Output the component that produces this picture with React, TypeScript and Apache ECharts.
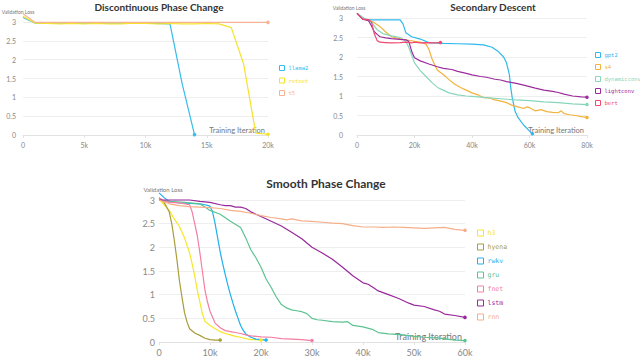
import { useEffect, useRef } from 'react';
import * as echarts from 'echarts';

// ---- Discontinuous Phase Change (x in thousands of iterations) ----
const llama2 = [[0,3.12],[1,2.97],[2,2.97],[4,2.97],[6,2.97],[8,2.97],[10,2.97],[12,2.95],[13,1.35],[14,0.01]];
const retnet = [[0,3.15],[1,2.97],[2,2.96],[3,2.95],[4,2.96],[5,2.95],[6,2.96],[7,2.95],[8,2.95],[9,2.97],[10,2.96],[11,2.95],[12,2.96],[13,2.95],[14,2.95],[15,2.96],[16,2.95],[17,2.85],[18,1.9],[19,0.05],[20,0.02]];
const t5 = [[0,3.22],[1,2.99],[5,2.99],[10,2.99],[15,2.99],[20,2.99]];

// ---- Secondary Descent ----
const gpt2 = [[0,3.12],[2,2.97],[5,2.95],[10,2.95],[15,2.95],[16,2.85],[17,2.62],[19,2.52],[22,2.46],[25,2.37],[30,2.35],[35,2.34],[40,2.33],[44,2.31],[47,2.25],[49,2.15],[51,2.0],[52,1.85],[53,1.55],[53.5,1.2],[54,0.95],[55,0.6],[56,0.45],[57,0.35],[58,0.25],[59,0.18],[60,0.1],[61,0.03]];
const s4 = [[0,3.12],[2,2.97],[4,2.94],[6,2.88],[8,2.78],[10,2.64],[12,2.52],[14,2.48],[16,2.45],[18,2.43],[20,2.4],[22,2.38],[24,2.33],[25,2.2],[26,1.97],[27,1.8],[28,1.66],[30,1.55],[32,1.42],[34,1.3],[36,1.22],[38,1.15],[40,1.08],[42,1.03],[44,0.96],[46,0.95],[48,0.9],[50,0.87],[52,0.83],[54,0.76],[56,0.72],[58,0.68],[59,0.72],[60,0.7],[62,0.62],[64,0.65],[66,0.6],[68,0.58],[70,0.57],[71,0.62],[72,0.55],[74,0.52],[76,0.5],[78,0.47],[80,0.45]];
const dynamicconv = [[0,3.12],[3,2.97],[5,2.9],[6,2.8],[7,2.7],[9,2.6],[12,2.54],[15,2.5],[17,2.4],[18,2.25],[19,2.05],[20,1.85],[22,1.65],[24,1.5],[26,1.35],[28,1.22],[30,1.15],[32,1.08],[35,1.03],[38,1.0],[40,0.99],[45,0.96],[50,0.93],[55,0.9],[60,0.88],[65,0.85],[70,0.83],[75,0.8],[80,0.78]];
const lightconv = [[0,3.12],[2,2.97],[4,2.93],[5,2.8],[6,2.65],[7,2.58],[8,2.52],[10,2.49],[12,2.47],[15,2.45],[17,2.44],[18,2.4],[19,2.15],[20,1.98],[22,1.9],[25,1.82],[28,1.75],[30,1.71],[33,1.68],[35,1.63],[38,1.58],[40,1.54],[43,1.5],[45,1.48],[48,1.43],[50,1.41],[52,1.37],[55,1.33],[58,1.28],[60,1.24],[62,1.2],[65,1.15],[68,1.12],[70,1.09],[72,1.05],[75,1.0],[78,0.98],[80,0.97]];
const bert = [[0,3.12],[2,2.97],[4,2.96],[5,2.9],[6,2.6],[7,2.42],[8,2.38],[10,2.37],[12,2.36],[15,2.37],[17,2.38],[19,2.36],[20,2.38],[22,2.36],[25,2.37],[27,2.36],[29,2.37]];

// ---- Smooth Phase Change ----
const h3 = [[0,3.02],[1,2.9],[2,2.78],[3,2.6],[4,2.44],[5,2.2],[6,1.88],[6.5,1.65],[7,1.4],[7.5,1.1],[8,0.85],[8.5,0.6],[9,0.44],[10,0.35],[11,0.28],[12,0.22],[13,0.18],[14,0.15],[15,0.12],[16,0.1],[17,0.07],[18,0.05],[19,0.05],[20,0.04]];
const hyena = [[0,3.05],[1,2.95],[2,2.75],[2.5,2.5],[3,2.15],[3.5,1.75],[4,1.3],[4.5,0.95],[5,0.62],[5.5,0.42],[6,0.28],[7,0.19],[8,0.14],[9,0.08],[10,0.05],[11,0.04],[12,0.04]];
const rwkv = [[0,3.15],[1,3.05],[2,2.97],[4,2.94],[6,2.93],[8,2.92],[9,2.9],[10,2.87],[10.5,2.75],[11,2.5],[11.5,2.2],[12,1.9],[12.5,1.65],[13,1.42],[13.5,1.2],[14,1.0],[14.5,0.82],[15,0.65],[15.5,0.5],[16,0.35],[16.5,0.25],[17,0.17],[18,0.1],[19,0.06],[20,0.05],[21,0.04]];
const gru = [[0,3.0],[2,2.97],[5,2.95],[8,2.92],[9,2.85],[10,2.78],[12,2.7],[14,2.55],[16,2.42],[17,2.2],[18,1.95],[19,1.78],[20,1.58],[21,1.33],[22,1.15],[23,0.95],[24,0.79],[25,0.72],[26,0.68],[27,0.66],[28,0.64],[29,0.6],[30,0.5],[31,0.47],[32,0.46],[34,0.43],[36,0.42],[37,0.43],[38,0.35],[40,0.32],[42,0.26],[43,0.2],[45,0.17],[48,0.15],[50,0.12],[52,0.1],[55,0.08],[58,0.04],[60,0.03]];
const fnet = [[0,3.05],[1,2.98],[2,2.95],[4,2.94],[6,2.9],[6.5,2.75],[7,2.5],[7.5,2.25],[8,1.9],[8.5,1.5],[9,1.1],[9.5,0.85],[10,0.65],[11,0.4],[12,0.3],[13,0.24],[14,0.22],[15,0.2],[16,0.18],[17,0.15],[18,0.13],[20,0.11],[22,0.1],[24,0.07],[26,0.06],[28,0.05],[30,0.03]];
const lstm = [[0,3.0],[3,3.0],[6,3.0],[8,2.97],[10,2.95],[12,2.9],[13,2.88],[14,2.88],[15,2.85],[16,2.85],[17,2.82],[18,2.75],[20,2.65],[22,2.55],[24,2.45],[26,2.32],[28,2.18],[30,2.0],[32,1.88],[34,1.75],[36,1.58],[38,1.4],[40,1.25],[41,1.22],[42,1.15],[43,1.08],[45,1.0],[47,0.92],[49,0.82],[50,0.78],[52,0.75],[54,0.68],[55,0.65],[56,0.59],[58,0.56],[60,0.52]];
const rnn = [[0,3.0],[2,2.92],[4,2.88],[6,2.86],[8,2.85],[10,2.84],[12,2.82],[14,2.78],[16,2.76],[18,2.72],[20,2.67],[22,2.63],[24,2.6],[25,2.58],[26,2.6],[28,2.56],[30,2.55],[32,2.53],[34,2.51],[36,2.5],[38,2.46],[40,2.43],[42,2.43],[44,2.42],[46,2.43],[48,2.42],[50,2.41],[52,2.4],[54,2.41],[56,2.42],[58,2.38],[60,2.36]];

const titles = ['Discontinuous Phase Change', 'Secondary Descent', 'Smooth Phase Change'];
const xMaxes = [20, 80, 60];
const xIntervals = [5, 20, 10];

const FONT = 'Lato';
const MONO = 'DejaVu Sans Mono';

type S = { name: string; data: number[][]; color: string; g: number };
const seriesDefs: S[] = [
  { name: 'llama2', data: llama2, color: '#35bdec', g: 0 },
  { name: 'retnet', data: retnet, color: '#f6e22b', g: 0 },
  { name: 't5', data: t5, color: '#f5b394', g: 0 },
  { name: 'gpt2', data: gpt2, color: '#2fb9ed', g: 1 },
  { name: 's4', data: s4, color: '#f2b23c', g: 1 },
  { name: 'dynamicconv', data: dynamicconv, color: '#88d6b9', g: 1 },
  { name: 'lightconv', data: lightconv, color: '#9c2c9e', g: 1 },
  { name: 'bert', data: bert, color: '#f04a72', g: 1 },
  { name: 'h3', data: h3, color: '#f6e629', g: 2 },
  { name: 'hyena', data: hyena, color: '#a89d3a', g: 2 },
  { name: 'rwkv', data: rwkv, color: '#1fb0ee', g: 2 },
  { name: 'gru', data: gru, color: '#5cc392', g: 2 },
  { name: 'fnet', data: fnet, color: '#f57ea2', g: 2 },
  { name: 'lstm', data: lstm, color: '#98289b', g: 2 },
  { name: 'rnn', data: rnn, color: '#f6ae88', g: 2 },
];

const grids = [
  { left: 23, top: 22, width: 245, height: 113 },
  { left: 357, top: 18, width: 230, height: 117 },
  { left: 159, top: 200, width: 306, height: 142 },
];
const labelSizes = [7, 7, 9];
const yMargins = [7, 14, 4];
const legendPos = [
  { left: 279, top: 64, gap: 4.5, font: 5.5, lh: 8, icon: 5 },
  { left: 595, top: 51, gap: 4, font: 5.5, lh: 8, icon: 5 },
  { left: 477, top: 229, gap: 6, font: 6.5, lh: 8, icon: 6 },
];
const titlePos = [
  { left: 154, top: -3, size: 10 },
  { left: 488, top: -3, size: 10 },
  { left: 321, top: 172, size: 12 },
];

export default function App() {
  const ref = useRef<HTMLDivElement>(null);
  useEffect(() => {
    if (!ref.current) return;
    const chart = echarts.init(ref.current, undefined, { renderer: 'svg' });
    const option: any = {
      animation: false,
      backgroundColor: '#fff',
      textStyle: { fontFamily: FONT },
      title: titles.map((t, i) => ({
        text: t,
        left: titlePos[i].left,
        top: titlePos[i].top,
        textAlign: 'center',
        textStyle: { fontFamily: FONT, fontWeight: 'bold', fontSize: titlePos[i].size, color: '#333' },
      })),
      grid: grids.map((g) => ({ ...g })),
      xAxis: grids.map((_, i) => ({
        type: 'value',
        gridIndex: i,
        min: 0,
        max: xMaxes[i],
        interval: xIntervals[i],
        name: 'Training Iteration',
        nameLocation: 'end',
        nameGap: -3,
        nameTextStyle: { align: 'right', verticalAlign: 'bottom', color: '#777', fontSize: i === 2 ? 9 : 7.5, fontFamily: FONT, padding: [0, 0, 1, 0] },
        axisLine: { show: true, lineStyle: { color: '#e2e2e2' } },
        axisTick: { show: true, length: 3, lineStyle: { color: '#e2e2e2' } },
        splitLine: { show: false },
        axisLabel: {
          color: '#888',
          fontSize: labelSizes[i],
          margin: 6,
          formatter: (v: number) => (v === 0 ? '0' : v + 'k'),
        },
      })),
      yAxis: grids.map((_, i) => ({
        type: 'value',
        gridIndex: i,
        min: 0,
        max: 3,
        interval: 0.5,
        name: 'Validation Loss',
        nameLocation: 'end',
        nameGap: 8,
        nameTextStyle: { color: '#777', fontSize: i === 2 ? 6 : 5, fontFamily: FONT, align: 'center', padding: i === 0 ? [0, 10, 0, 0] : i === 1 ? [0, 16, 0, 0] : [0, 0, 0, 8] },
        axisLine: { show: false },
        axisTick: { show: false },
        splitLine: { show: true, lineStyle: { color: '#eeeeee' } },
        axisLabel: { color: '#888', fontSize: labelSizes[i], margin: yMargins[i] },
      })),
      legend: legendPos.map((lp, i) => ({
        orient: 'vertical',
        left: lp.left,
        top: lp.top,
        padding: 0,
        itemGap: lp.gap,
        itemWidth: lp.icon,
        itemHeight: lp.icon,
        icon: 'rect',
        selectedMode: false,
        textStyle: { fontFamily: MONO, fontSize: lp.font, lineHeight: lp.lh, padding: [0, 0, 0, -1] },
        data: seriesDefs
          .filter((s) => s.g === i)
          .map((s) => ({
            name: s.name,
            icon: 'rect',
            itemStyle: { color: 'rgba(255,255,255,0)', borderColor: s.color, borderWidth: 1 },
            textStyle: { color: s.color, fontFamily: MONO, fontSize: lp.font },
          })),
      })),
      series: seriesDefs.map((s) => ({
        type: 'line',
        name: s.name,
        xAxisIndex: s.g,
        yAxisIndex: s.g,
        data: s.data,
        clip: false,
        symbol: 'circle',
        showSymbol: true,
        showAllSymbol: true,
        symbolSize: (_v: any, p: any) => (p.dataIndex === s.data.length - 1 ? 3.5 : 0),
        lineStyle: { width: 1.2, color: s.color },
        itemStyle: { color: s.color },
        emphasis: { disabled: true },
      })),
    };
    chart.setOption(option);
    return () => chart.dispose();
  }, []);
  return <div ref={ref} style={{ position: 'fixed', left: 0, top: 0, width: 640, height: 358 }} />;
}
